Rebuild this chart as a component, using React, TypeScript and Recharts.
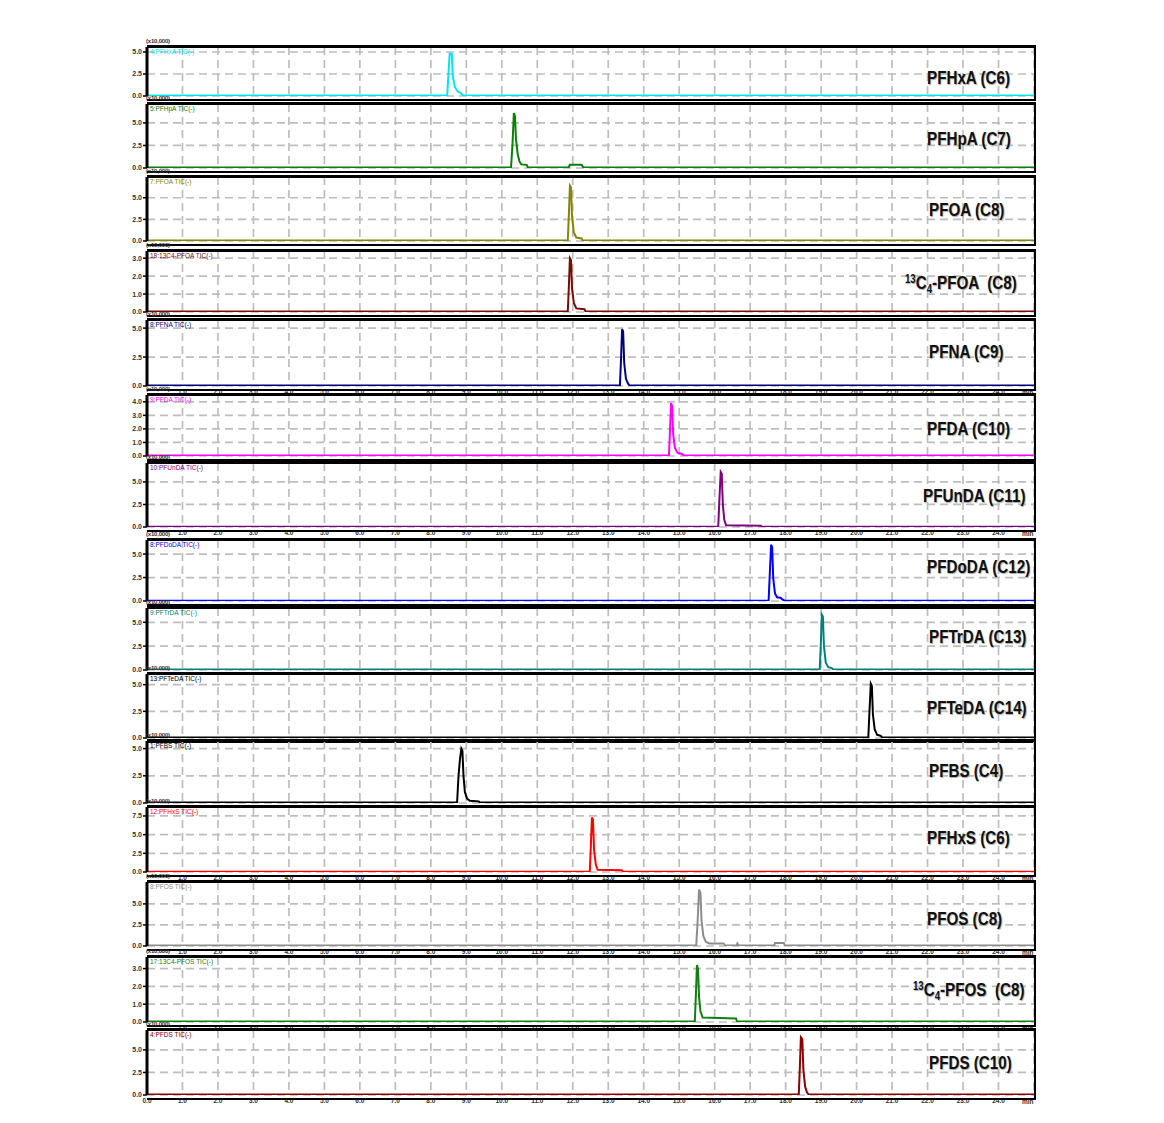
import { LineChart, Line, XAxis, YAxis, CartesianGrid } from 'recharts';

// retention time (min) / signal (x10,000) per trace
const pfhxaTime = [0, 8.46, 8.49, 8.53, 8.59, 8.62, 8.68, 8.76, 8.86, 8.9, 25];
const pfhxaSignal = [0.05, 0.05, 2.0, 4.8, 4.8, 2.2, 1.0, 0.5, 0.3, 0.05, 0.05];

const pfhpaTime = [0, 10.26, 10.3, 10.34, 10.37, 10.4, 10.45, 10.5, 10.55, 10.7, 10.74, 11.88, 11.92, 12.25, 12.3, 25];
const pfhpaSignal = [0.05, 0.05, 2.5, 6.1, 5.8, 3.2, 1.5, 0.7, 0.4, 0.35, 0.05, 0.05, 0.35, 0.35, 0.05, 0.05];

const pfoaTime = [0, 11.86, 11.89, 11.92, 11.95, 11.98, 12.03, 12.1, 12.25, 12.28, 25];
const pfoaSignal = [0.05, 0.05, 3.0, 6.4, 6.2, 2.8, 1.0, 0.4, 0.3, 0.05, 0.05];

const c13PfoaTime = [0, 11.86, 11.89, 11.92, 11.95, 11.98, 12.03, 12.1, 12.33, 12.36, 25];
const c13PfoaSignal = [0.03, 0.03, 1.4, 3.0, 2.9, 1.3, 0.5, 0.2, 0.15, 0.03, 0.03];

const pfnaTime = [0, 13.33, 13.36, 13.39, 13.42, 13.45, 13.5, 13.56, 13.6, 25];
const pfnaSignal = [0.04, 0.04, 2.3, 4.9, 4.7, 2.0, 0.6, 0.2, 0.04, 0.04];

const pfdaTime = [0, 14.71, 14.74, 14.77, 14.8, 14.83, 14.88, 14.95, 15.08, 15.12, 25];
const pfdaSignal = [0.04, 0.04, 1.8, 3.9, 3.7, 1.6, 0.6, 0.25, 0.15, 0.04, 0.04];

const pfundaTime = [0, 16.1, 16.13, 16.17, 16.2, 16.23, 16.27, 16.32, 17.3, 17.33, 25];
const pfundaSignal = [0.04, 0.04, 2.8, 6.1, 5.9, 2.5, 0.8, 0.2, 0.15, 0.04, 0.04];

const pfdodaTime = [0, 17.52, 17.55, 17.59, 17.62, 17.65, 17.7, 17.76, 17.85, 17.92, 17.97, 25];
const pfdodaSignal = [0.04, 0.04, 2.6, 6.0, 5.7, 2.4, 0.8, 0.4, 0.35, 0.15, 0.04, 0.04];

const pftrdaTime = [0, 18.96, 18.99, 19.02, 19.05, 19.08, 19.13, 19.2, 19.3, 19.34, 25];
const pftrdaSignal = [0.05, 0.05, 2.6, 5.8, 5.6, 2.5, 0.8, 0.3, 0.2, 0.05, 0.05];

const pftedaTime = [0, 20.33, 20.36, 20.4, 20.43, 20.46, 20.51, 20.58, 20.68, 20.72, 25];
const pftedaSignal = [0.05, 0.05, 2.3, 5.1, 4.9, 2.2, 0.8, 0.3, 0.2, 0.05, 0.05];

const pfbsTime = [0, 8.74, 8.78, 8.82, 8.86, 8.89, 8.92, 8.96, 9.02, 9.1, 9.35, 9.38, 25];
const pfbsSignal = [0.04, 0.04, 2.5, 4.0, 5.0, 4.8, 2.5, 1.0, 0.4, 0.2, 0.15, 0.04, 0.04];

const pfhxsTime = [0, 12.48, 12.51, 12.54, 12.57, 12.6, 12.65, 12.7, 13.38, 13.42, 25];
const pfhxsSignal = [0.05, 0.05, 3.5, 7.3, 7.0, 3.0, 1.0, 0.3, 0.25, 0.05, 0.05];

const pfosTime = [0, 15.48, 15.52, 15.56, 15.6, 15.63, 15.68, 15.75, 15.85, 16.25, 16.3, 16.62, 16.64, 16.68, 17.68, 17.7, 17.95, 17.98, 25];
const pfosSignal = [0.05, 0.05, 3.0, 6.7, 6.3, 3.0, 1.2, 0.5, 0.3, 0.3, 0.05, 0.05, 0.3, 0.05, 0.05, 0.35, 0.35, 0.05, 0.05];

const c13PfosTime = [0, 15.44, 15.47, 15.5, 15.53, 15.56, 15.6, 15.66, 16.6, 16.63, 25];
const c13PfosSignal = [0.03, 0.03, 1.5, 3.2, 3.0, 1.4, 0.6, 0.25, 0.2, 0.03, 0.03];

const pfdsTime = [0, 18.37, 18.4, 18.43, 18.47, 18.5, 18.55, 18.6, 18.65, 25];
const pfdsSignal = [0.05, 0.05, 3.0, 6.4, 6.2, 2.8, 0.9, 0.3, 0.05, 0.05];

const compoundNames = [
  'PFHxA (C6)', 'PFHpA (C7)', 'PFOA (C8)', '13C4-PFOA  (C8)', 'PFNA (C9)',
  'PFDA (C10)', 'PFUnDA (C11)', 'PFDoDA (C12)', 'PFTrDA (C13)', 'PFTeDA (C14)',
  'PFBS (C4)', 'PFHxS (C6)', 'PFOS (C8)', '13C4-PFOS  (C8)', 'PFDS (C10)',
];
const ticLabels = [
  '4:PFHxA TIC(-)', '5:PFHpA TIC(-)', '7:PFOA TIC(-)', '18:13C4-PFOA TIC(-)', '8:PFNA TIC(-)',
  '9:PFDA TIC(-)', '10:PFUnDA TIC(-)', '8:PFDoDA TIC(-)', '9:PFTrDA TIC(-)', '13:PFTeDA TIC(-)',
  '1:PFBS TIC(-)', '12:PFHxS TIC(-)', '8:PFOS TIC(-)', '17:13C4-PFOS TIC(-)', '4:PFDS TIC(-)',
];
const colors = [
  '#00e4f4', '#0a7d0a', '#868600', '#7a0a0a', '#000080',
  '#ff00ff', '#800080', '#0000ff', '#007f7f', '#000000',
  '#000000', '#ff0000', '#8c8c8c', '#108010', '#8b0000',
];

const xTicks = [0, 1, 2, 3, 4, 5, 6, 7, 8, 9, 10, 11, 12, 13, 14, 15, 16, 17, 18, 19, 20, 21, 22, 23, 24];
const ticksHalf = [0, 2.5, 5];
const ticksHalf3 = [0, 2.5, 5, 7.5];
const ticksUnit3 = [0, 1, 2, 3];
const ticksUnit4 = [0, 1, 2, 3, 4];

const traces = [
  { time: pfhxaTime, signal: pfhxaSignal },
  { time: pfhpaTime, signal: pfhpaSignal },
  { time: pfoaTime, signal: pfoaSignal },
  { time: c13PfoaTime, signal: c13PfoaSignal },
  { time: pfnaTime, signal: pfnaSignal },
  { time: pfdaTime, signal: pfdaSignal },
  { time: pfundaTime, signal: pfundaSignal },
  { time: pfdodaTime, signal: pfdodaSignal },
  { time: pftrdaTime, signal: pftrdaSignal },
  { time: pftedaTime, signal: pftedaSignal },
  { time: pfbsTime, signal: pfbsSignal },
  { time: pfhxsTime, signal: pfhxsSignal },
  { time: pfosTime, signal: pfosSignal },
  { time: c13PfosTime, signal: c13PfosSignal },
  { time: pfdsTime, signal: pfdsSignal },
];

// panel placement on the page
const layout = [
  { top: 47, zero: 96, yMax: 5.57, yTicks: ticksHalf, xLabels: false, labelX: 927, labelY: 78 },
  { top: 104, zero: 168, yMax: 7.1, yTicks: ticksHalf, xLabels: false, labelX: 927, labelY: 139 },
  { top: 177, zero: 241, yMax: 7.4, yTicks: ticksHalf, xLabels: false, labelX: 929, labelY: 210 },
  { top: 251, zero: 312, yMax: 3.4, yTicks: ticksUnit3, xLabels: false, labelX: 905, labelY: 283 },
  { top: 320, zero: 386, yMax: 5.7, yTicks: ticksHalf, xLabels: true, labelX: 929, labelY: 352 },
  { top: 395, zero: 456, yMax: 4.5, yTicks: ticksUnit4, xLabels: false, labelX: 927, labelY: 429 },
  { top: 463, zero: 527, yMax: 7.1, yTicks: ticksHalf, xLabels: true, labelX: 923, labelY: 496 },
  { top: 540, zero: 601, yMax: 6.5, yTicks: ticksHalf, xLabels: false, labelX: 927, labelY: 567 },
  { top: 608, zero: 670, yMax: 6.5, yTicks: ticksHalf, xLabels: false, labelX: 929, labelY: 637 },
  { top: 674, zero: 738, yMax: 6.0, yTicks: ticksHalf, xLabels: false, labelX: 927, labelY: 708 },
  { top: 741, zero: 803, yMax: 5.7, yTicks: ticksHalf, xLabels: false, labelX: 929, labelY: 771 },
  { top: 807, zero: 872, yMax: 8.7, yTicks: ticksHalf3, xLabels: true, labelX: 927, labelY: 838 },
  { top: 882, zero: 946, yMax: 7.6, yTicks: ticksHalf, xLabels: true, labelX: 927, labelY: 919 },
  { top: 957, zero: 1022, yMax: 3.65, yTicks: ticksUnit3, xLabels: true, labelX: 913, labelY: 990 },
  { top: 1030, zero: 1095, yMax: 7.2, yTicks: ticksHalf, xLabels: true, labelX: 929, labelY: 1063 },
];

const W = 1164;
const PLOT_LEFT = 147;
const PLOT_RIGHT = 1034;
const TOP_PAD = 6;
const BOTTOM_PAD = 14;
const axisFont = { fontSize: 7, fill: '#333', fontFamily: 'Liberation Sans, Arial, sans-serif', fontWeight: 700 };
const xAxisFont = { ...axisFont, fontSize: 6.5 };

function CompoundName({ text }: { text: string }) {
  if (text.startsWith('13C4-')) {
    return (
      <span>
        <sup style={{ fontSize: 12, lineHeight: 0, verticalAlign: 6 }}>13</sup>C
        <sub style={{ fontSize: 12, lineHeight: 0, verticalAlign: -4 }}>4</sub>-{text.slice(5)}
      </span>
    );
  }
  return <span>{text}</span>;
}

function Panel({ idx }: { idx: number }) {
  const p = layout[idx];
  const tr = traces[idx];
  const last = idx === layout.length - 1;
  const h = p.zero - p.top;
  const data = tr.time.map((t, i) => ({ t, v: tr.signal[i] }));
  const minorStep = p.yTicks[1] / (p.yTicks[1] === 1 ? 5 : 7);
  const minorTicks: number[] = [];
  for (let v = 0; v <= p.yMax + 1e-6; v += minorStep) minorTicks.push(+v.toFixed(4));

  return (
    <>
      <div style={{ position: 'absolute', left: 0, top: p.top - TOP_PAD }}>
        <LineChart
          width={W}
          height={h + TOP_PAD + BOTTOM_PAD}
          data={data}
          margin={{ top: TOP_PAD, right: W - PLOT_RIGHT, left: PLOT_LEFT - 24, bottom: p.xLabels ? BOTTOM_PAD - 12 : BOTTOM_PAD }}
        >
          <CartesianGrid yAxisId="major" stroke="#bdbdbd" strokeWidth={1.7} strokeDasharray="8 5" />
          <XAxis
            type="number"
            dataKey="t"
            domain={[0, 25]}
            ticks={xTicks}
            interval={0}
            hide={!p.xLabels}
            height={12}
            axisLine={false}
            tickLine={false}
            tickSize={0}
            tickMargin={3}
            tick={xAxisFont}
            tickFormatter={(v: number) => (v === 0 ? (last ? '0.0' : '') : v.toFixed(1))}
          />
          <YAxis
            yAxisId="minor"
            type="number"
            width={0}
            domain={[0, p.yMax]}
            allowDataOverflow
            ticks={minorTicks}
            interval={0}
            axisLine={false}
            tickSize={2}
            tickLine={{ stroke: '#000', strokeWidth: 1 }}
            tick={false}
          />
          <YAxis
            yAxisId="major"
            type="number"
            width={24}
            domain={[0, p.yMax]}
            allowDataOverflow
            ticks={p.yTicks}
            interval={0}
            axisLine={{ stroke: '#000', strokeWidth: 3 }}
            tickSize={4}
            tickLine={{ stroke: '#000', strokeWidth: 1.5 }}
            tickMargin={1}
            tick={axisFont}
            tickFormatter={(v: number) => v.toFixed(1)}
          />
          <Line
            yAxisId="major"
            type="linear"
            dataKey="v"
            stroke={colors[idx]}
            strokeWidth={2}
            dot={false}
            isAnimationActive={false}
          />
        </LineChart>
      </div>
      {/* panel frame */}
      <div
        style={{
          position: 'absolute',
          left: PLOT_LEFT,
          top: p.top - 2,
          width: PLOT_RIGHT - PLOT_LEFT,
          height: h + 2,
          borderTop: '3px solid #000',
          borderRight: '2px solid #000',
          borderBottom: '2px solid #000',
          boxSizing: 'content-box',
          pointerEvents: 'none',
        }}
      />
      <div style={{ position: 'absolute', left: PLOT_LEFT - 1, top: p.top - 9, fontSize: 6, color: '#333', fontWeight: 700, whiteSpace: 'nowrap', letterSpacing: -0.2 }}>
        (x10,000)
      </div>
      <div style={{ position: 'absolute', left: PLOT_LEFT + 3, top: p.top + 1, fontSize: 6.5, color: colors[idx], whiteSpace: 'nowrap' }}>
        {ticLabels[idx]}
      </div>
      {p.xLabels && (
        <div style={{ position: 'absolute', left: 1022, top: p.zero + 3, fontSize: 6.5, color: '#333', fontWeight: 700 }}>min</div>
      )}
      <div
        style={{
          position: 'absolute',
          left: p.labelX,
          top: p.labelY - 12,
          fontSize: 19,
          lineHeight: '24px',
          fontWeight: 700,
          color: '#111',
          whiteSpace: 'pre',
          transform: 'scaleX(0.8)',
          transformOrigin: 'left center',
          fontFamily: "'Liberation Sans Narrow', 'Liberation Sans', sans-serif",
          textShadow: '1px 1px 1px #aaa',
        }}
      >
        <CompoundName text={compoundNames[idx]} />
      </div>
    </>
  );
}

export default function App() {
  return (
    <div
      style={{
        position: 'absolute',
        left: 0,
        top: 0,
        width: W,
        height: 1123,
        background: '#fff',
        fontFamily: 'Liberation Sans, Arial, sans-serif',
      }}
    >
      {layout.map((_, i) => (
        <Panel key={i} idx={i} />
      ))}
    </div>
  );
}
